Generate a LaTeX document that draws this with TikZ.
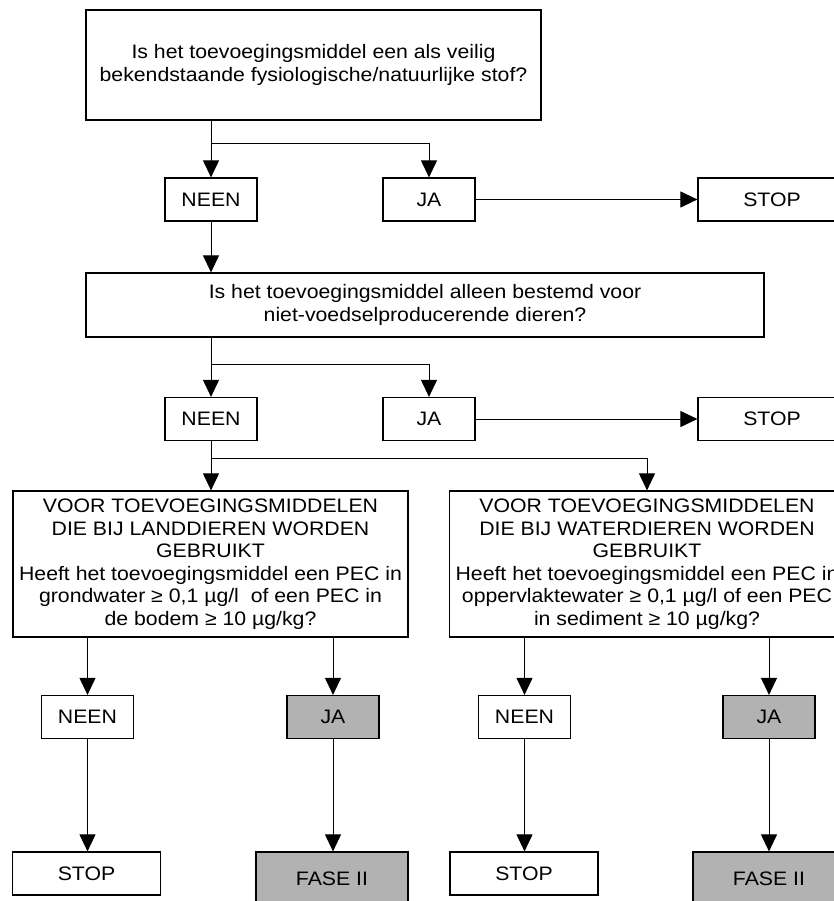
\documentclass[tikz,border=0pt]{standalone}
\usepackage{fontspec}
\setmainfont{Liberation Sans}[FakeStretch=1.09]
\usetikzlibrary{arrows.meta}

\begin{document}
\begin{tikzpicture}[x=1pt, y=-1pt,
    box/.style={draw, line width=1.2pt, fill=white, align=center, inner sep=0pt,
      font=\fontsize{19.5}{22.5}\selectfont},
    ans/.style={box, minimum width=92pt, minimum height=43pt},
    endbox/.style={box, minimum width=148pt, minimum height=43pt},
    shaded/.style={fill=gray!60},
    arr/.style={-{Triangle[length=17pt, width=16pt]}, line width=1pt}]
    \useasboundingbox (0,0) rectangle (834,901);
    \clip (0,0) rectangle (834,901);
    % first question
    \node[box, minimum width=455pt, minimum height=110pt] (Q1) at (313.5,65)
      {Is het toevoegingsmiddel een als veilig\\bekendstaande fysiologische/natuurlijke stof?};
    \node[ans] (N1) at (211,199.5){NEEN};
    \node[ans] (J1) at (429,199.5){JA};
    \node[endbox] (S1) at (772,199.5){STOP};
    % second question
    \node[box, minimum width=678pt, minimum height=64pt] (Q2) at (425,305)
      {Is het toevoegingsmiddel alleen bestemd voor\\niet-voedselproducerende dieren?};
    \node[ans] (N2) at (211,419){NEEN};
    \node[ans] (J2) at (429,419){JA};
    \node[endbox] (S2) at (772,419){STOP};
    % land and water
    \node[box, minimum width=395pt, minimum height=146pt] (L) at (210.5,564)
      {VOOR TOEVOEGINGSMIDDELEN\\DIE BIJ LANDDIEREN WORDEN\\GEBRUIKT\\
       Heeft het toevoegingsmiddel een PEC in\\grondwater ≥ 0,1 µg/l\ \ of een PEC in\\de bodem ≥ 10 µg/kg?};
    \node[box, minimum width=395pt, minimum height=146pt] (R) at (647,564)
      {VOOR TOEVOEGINGSMIDDELEN\\DIE BIJ WATERDIEREN WORDEN\\GEBRUIKT\\
       Heeft het toevoegingsmiddel een PEC in\\oppervlaktewater ≥ 0,1 µg/l of een PEC\\in sediment ≥ 10 µg/kg?};
    \node[ans] (N3) at (87.5,717){NEEN};
    \node[ans, shaded] (J3) at (333,717){JA};
    \node[ans] (N4) at (524.5,717){NEEN};
    \node[ans, shaded] (J4) at (769,717){JA};
    \node[endbox] (S3) at (86.5,873.5){STOP};
    \node[box, shaded, minimum width=152pt, minimum height=54pt] (F3) at (332,879){FASE II};
    \node[endbox] (S4) at (524,873.5){STOP};
    \node[box, shaded, minimum width=152pt, minimum height=54pt] (F4) at (769,879){FASE II};
    % connectors
    \coordinate (b1) at (211,144);
    \coordinate (b2) at (211,364);
    \coordinate (b3) at (211,458);
    \draw[arr] (Q1.south -| b1)--(N1);
    \draw[arr] (b1) -| (J1);
    \draw[arr] (J1)--(S1);
    \draw[arr] (N1)--(Q2.north -| N1);
    \draw[arr] (Q2.south -| b2)--(N2);
    \draw[arr] (b2) -| (J2);
    \draw[arr] (J2)--(S2);
    \draw[arr] (N2)--(L.north -| N2);
    \draw[arr] (b3) -| (R);
    \draw[arr] (L.south -| N3)--(N3);
    \draw[arr] (L.south -| J3)--(J3);
    \draw[arr] (R.south -| N4)--(N4);
    \draw[arr] (R.south -| J4)--(J4);
    \draw[arr] (N3)--(S3.north -| N3);
    \draw[arr] (J3)--(F3.north -| J3);
    \draw[arr] (N4)--(S4.north -| N4);
    \draw[arr] (J4)--(F4.north -| J4);
  \end{tikzpicture}
\end{document}
